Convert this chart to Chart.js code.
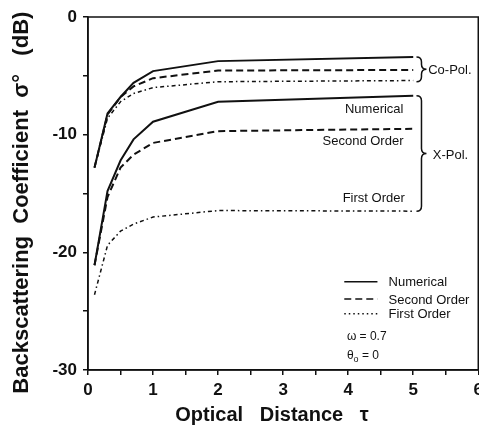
<!DOCTYPE html>
<html lang="en">
<head>
  <meta charset="UTF-8">
  <title>Backscattering Coefficient vs Optical Distance</title>
  <script src="https://cdn.jsdelivr.net/npm/chart.js"></script>
  <style>
    html, body { margin: 0; padding: 0; background: #fff; overflow: hidden; }
    #wrap { width: 488px; height: 430px; }
  </style>
</head>
<body>
  <div id="wrap"><canvas id="sigmaChart" width="488" height="430"></canvas></div>

  <script>
    // optical distance samples (tau)
    const tau = [0.1, 0.3, 0.5, 0.7, 1, 2, 5];

    // co-polarized backscatter, dB
    const coNumerical   = [-12.8, -8.2, -6.8, -5.6, -4.6, -3.75, -3.4];
    const coSecondOrder = [-12.8, -8.3, -6.8, -5.9, -5.2, -4.55, -4.5];
    const coFirstOrder  = [-12.8, -8.6, -7.2, -6.5, -6.0, -5.5, -5.4];

    // cross-polarized backscatter, dB
    const xNumerical   = [-21.1, -14.8, -12.2, -10.4, -8.9, -7.2, -6.7];
    const xSecondOrder = [-21.1, -15.3, -12.8, -11.7, -10.7, -9.7, -9.5];
    const xFirstOrder  = [-23.6, -19.4, -18.2, -17.6, -17.0, -16.45, -16.5];

    const xTicks = [0, 1, 2, 3, 4, 5, 6];
    const yTicks = [0, -10, -20, -30];

    const INK = '#111';
    Chart.defaults.font.family = "'Liberation Sans', Arial, sans-serif";
    Chart.defaults.color = INK;

    const dashSolid = [];
    const dashSecond = [7, 4];
    const dashFirst = [4, 3, 1.5, 3];

    function series(values, dash, width) {
      return {
        data: values.map((v, i) => ({ x: tau[i], y: v })),
        borderColor: INK,
        borderWidth: width,
        borderDash: dash,
        pointRadius: 0,
        tension: 0,
        fill: false
      };
    }

    // right-pointing curly brace between two pixel rows
    function brace(ctx, x0, yTop, yBot, w) {
      const ym = (yTop + yBot) / 2;
      const r = w / 2;
      ctx.beginPath();
      ctx.moveTo(x0, yTop);
      ctx.quadraticCurveTo(x0 + r, yTop, x0 + r, yTop + r);
      ctx.lineTo(x0 + r, ym - r);
      ctx.quadraticCurveTo(x0 + r, ym, x0 + w, ym);
      ctx.quadraticCurveTo(x0 + r, ym, x0 + r, ym + r);
      ctx.lineTo(x0 + r, yBot - r);
      ctx.quadraticCurveTo(x0 + r, yBot, x0, yBot);
      ctx.stroke();
    }

    // frame, braces, curve labels and key
    const annotations = {
      id: 'annotations',
      afterDraw(chart) {
        const { ctx, chartArea: a, scales: { x, y } } = chart;
        ctx.save();
        ctx.strokeStyle = INK;
        ctx.fillStyle = INK;
        ctx.lineWidth = 1.5;
        ctx.setLineDash([]);
        ctx.strokeRect(a.left, a.top, a.right - a.left, a.bottom - a.top);

        // group braces
        brace(ctx, x.getPixelForValue(5.05), y.getPixelForValue(-3.4), y.getPixelForValue(-5.5), 10);
        brace(ctx, x.getPixelForValue(5.05), y.getPixelForValue(-6.7), y.getPixelForValue(-16.5), 10);

        ctx.font = "13px 'Liberation Sans', Arial, sans-serif";
        ctx.textBaseline = 'middle';
        ctx.textAlign = 'left';
        ctx.fillText('Co-Pol.', x.getPixelForValue(5.23), y.getPixelForValue(-4.55));
        ctx.fillText('X-Pol.', x.getPixelForValue(5.3), y.getPixelForValue(-11.8));

        ctx.textAlign = 'right';
        ctx.fillText('Numerical', x.getPixelForValue(4.85), y.getPixelForValue(-7.87));
        ctx.fillText('Second Order', x.getPixelForValue(4.85), y.getPixelForValue(-10.57));
        ctx.fillText('First Order', x.getPixelForValue(4.87), y.getPixelForValue(-15.45));

        // key
        const keyRows = [
          { label: 'Numerical', dash: dashSolid, y: -22.5 },
          { label: 'Second Order', dash: dashSecond, y: -23.96 },
          { label: 'First Order', dash: [1.5, 3], y: -25.23 }
        ];
        const kx0 = x.getPixelForValue(3.94);
        const kx1 = x.getPixelForValue(4.45);
        ctx.textAlign = 'left';
        keyRows.forEach(row => {
          const py = y.getPixelForValue(row.y);
          ctx.setLineDash(row.dash);
          ctx.lineWidth = 1.5;
          ctx.beginPath();
          ctx.moveTo(kx0, py);
          ctx.lineTo(kx1, py);
          ctx.stroke();
          ctx.fillText(row.label, x.getPixelForValue(4.62), py + 1);
        });
        ctx.setLineDash([]);

        const px = x.getPixelForValue(3.98);
        ctx.font = "12px 'Liberation Sans', Arial, sans-serif";
        ctx.fillText('\u03c9 = 0.7', px, y.getPixelForValue(-27.15));
        const thetaY = y.getPixelForValue(-28.8);
        ctx.fillText('\u03b8', px, thetaY);
        const tw = ctx.measureText('\u03b8').width;
        ctx.font = "9px 'Liberation Sans', Arial, sans-serif";
        ctx.fillText('o', px + tw, thetaY + 4);
        ctx.font = "12px 'Liberation Sans', Arial, sans-serif";
        ctx.fillText(' = 0', px + tw + 5, thetaY);
        ctx.restore();
      }
    };

    new Chart(document.getElementById('sigmaChart'), {
      type: 'line',
      data: {
        datasets: [
          series(coNumerical, dashSolid, 2),
          series(coSecondOrder, dashSecond, 2),
          series(coFirstOrder, dashFirst, 1.5),
          series(xNumerical, dashSolid, 2),
          series(xSecondOrder, dashSecond, 2),
          series(xFirstOrder, dashFirst, 1.5)
        ]
      },
      options: {
        responsive: false,
        animation: false,
        layout: { padding: { top: 17, right: 0, left: 0, bottom: 0 } },
        plugins: { legend: { display: false }, tooltip: { enabled: false } },
        scales: {
          x: {
            type: 'linear',
            min: 0,
            max: 6,
            afterFit: s => { s.height = 60; },
            ticks: {
              stepSize: 0.5,
              padding: 5,
              maxRotation: 0,
              font: { size: 17, weight: 'bold' },
              callback: v => xTicks.includes(v) ? String(v) : ''
            },
            grid: { drawOnChartArea: false, drawTicks: true, tickLength: 5, color: INK, lineWidth: 1.5 },
            border: { display: true, color: INK, width: 1.5 },
            title: {
              display: true,
              text: 'Optical   Distance   \u03c4    ',
              font: { size: 20, weight: 'bold' },
              padding: { top: 0, bottom: 3 }
            }
          },
          y: {
            min: -30,
            max: 0,
            afterFit: s => { s.width = 88; },
            ticks: {
              stepSize: 5,
              padding: 6,
              font: { size: 17, weight: 'bold' },
              callback: v => yTicks.includes(v) ? String(v) : ''
            },
            grid: { drawOnChartArea: false, drawTicks: true, tickLength: 5, color: INK, lineWidth: 1.5 },
            border: { display: true, color: INK, width: 1.5 },
            title: {
              display: true,
              text: 'Backscattering  Coefficient  \u03c3\u00b0   (dB)   ',
              font: { size: 22, weight: 'bold' },
              padding: { top: 9, bottom: 0 }
            }
          }
        }
      },
      plugins: [annotations]
    });
  </script>
</body>
</html>
